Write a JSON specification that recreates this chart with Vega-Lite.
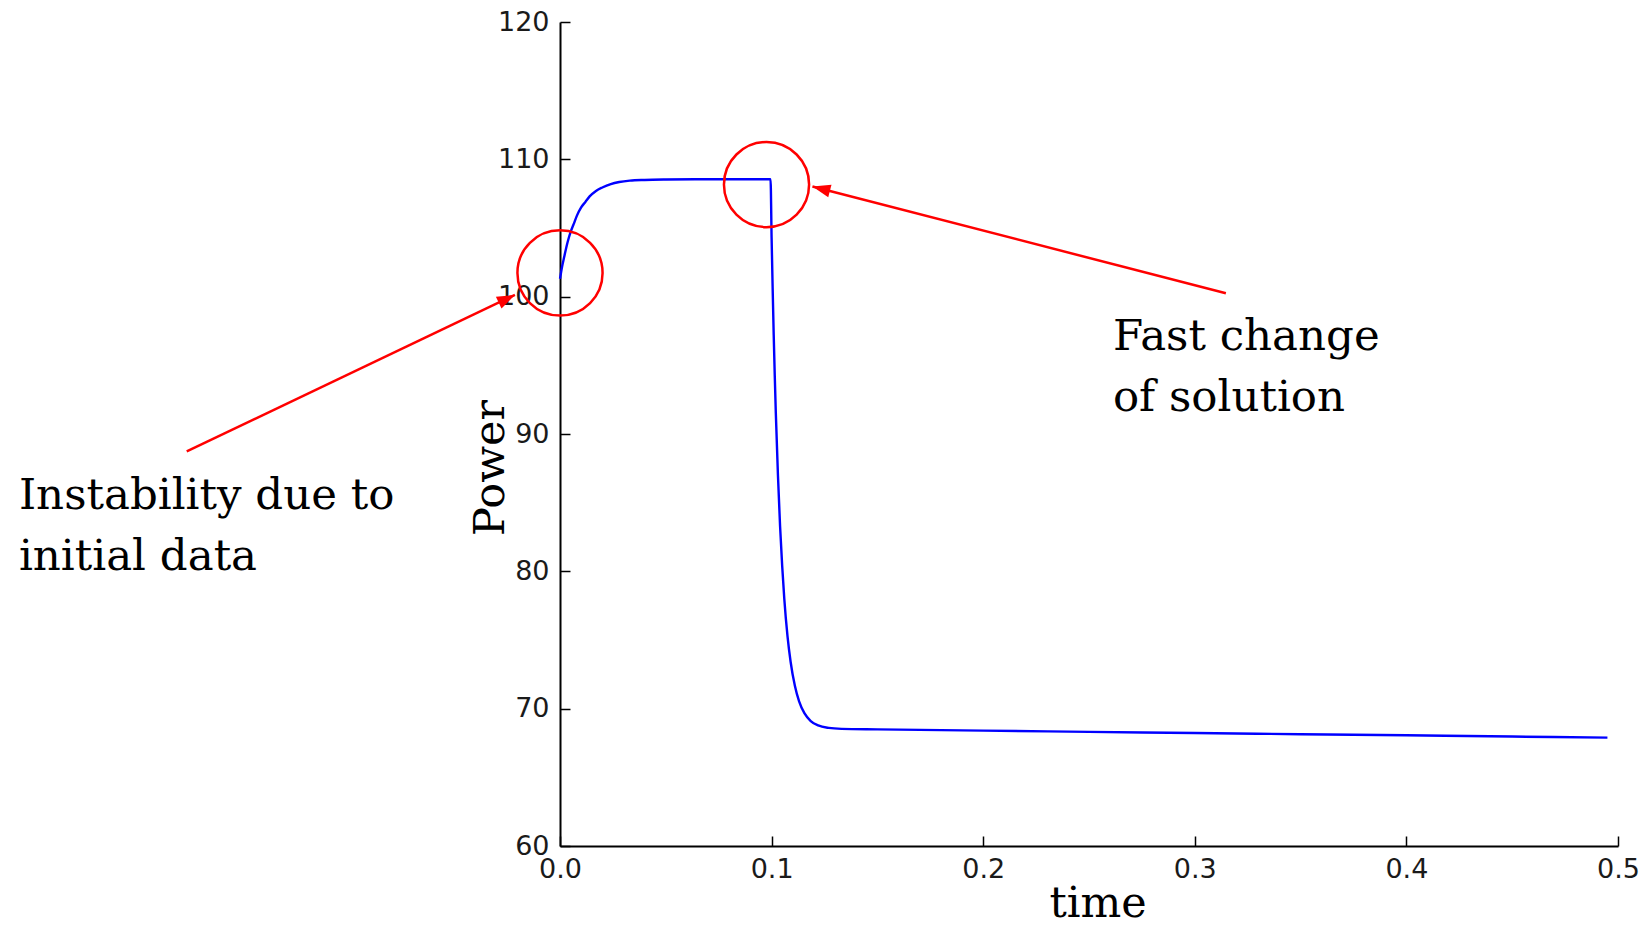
{
  "$schema": "https://vega.github.io/schema/vega-lite/v6.json",
  "width": 1058,
  "height": 824,
  "autosize": {"type": "none"},
  "padding": {"left": 560, "top": 22, "right": 28, "bottom": 84},
  "background": "white",
  "config": {"view": {"stroke": null}},
  "datasets": {
    "curve": [
      {"t": 0, "v": 101.3}, {"t": 0.001, "v": 102.2}, {"t": 0.002, "v": 102.9}, {"t": 0.003, "v": 103.6},
      {"t": 0.004, "v": 104.2}, {"t": 0.005, "v": 104.7}, {"t": 0.0065, "v": 105.3}, {"t": 0.008, "v": 105.9},
      {"t": 0.010, "v": 106.5}, {"t": 0.012, "v": 106.9}, {"t": 0.014, "v": 107.3}, {"t": 0.017, "v": 107.7},
      {"t": 0.020, "v": 107.95}, {"t": 0.024, "v": 108.2}, {"t": 0.028, "v": 108.35}, {"t": 0.033, "v": 108.45},
      {"t": 0.040, "v": 108.5}, {"t": 0.050, "v": 108.53}, {"t": 0.070, "v": 108.55}, {"t": 0.0995, "v": 108.55},
      {"t": 0.1000, "v": 104.3}, {"t": 0.1005, "v": 100.6}, {"t": 0.1010, "v": 97.2}, {"t": 0.1015, "v": 94.2},
      {"t": 0.1020, "v": 91.5}, {"t": 0.1030, "v": 87.0}, {"t": 0.1040, "v": 83.3}, {"t": 0.1050, "v": 80.4},
      {"t": 0.1060, "v": 78.0}, {"t": 0.1075, "v": 75.3}, {"t": 0.1090, "v": 73.4}, {"t": 0.1110, "v": 71.66},
      {"t": 0.1130, "v": 70.53}, {"t": 0.1155, "v": 69.67}, {"t": 0.1185, "v": 69.1}, {"t": 0.122, "v": 68.78},
      {"t": 0.127, "v": 68.6}, {"t": 0.133, "v": 68.53}, {"t": 0.15, "v": 68.49}, {"t": 0.2, "v": 68.4},
      {"t": 0.25, "v": 68.31}, {"t": 0.3, "v": 68.23}, {"t": 0.35, "v": 68.14}, {"t": 0.4, "v": 68.06},
      {"t": 0.45, "v": 67.97}, {"t": 0.495, "v": 67.89}
    ],
    "circles": [
      {"t": 0.0, "v": 101.73},
      {"t": 0.0976, "v": 108.16}
    ],
    "arrows": [
      {"name": "a1", "t": -0.1764, "v": 88.73, "t2": -0.0213, "v2": 100.13},
      {"name": "a2", "t": 0.3147, "v": 100.25, "t2": 0.1193, "v2": 108.02}
    ],
    "notes": [
      {"label": "Instability due to\ninitial data", "t": -0.2557, "v": 84.56},
      {"label": "Fast change\nof solution", "t": 0.2613, "v": 96.13}
    ]
  },
  "layer": [
    {
      "data": {"name": "curve"},
      "mark": {"type": "line", "color": "#0000ff", "strokeWidth": 2.4, "interpolate": "monotone"},
      "encoding": {
        "x": {
          "field": "t", "type": "quantitative",
          "scale": {"domain": [0, 0.5], "nice": false, "zero": false},
          "axis": {
            "title": "time", "values": [0, 0.1, 0.2, 0.3, 0.4, 0.5], "format": ".1f", "grid": false, "labelFlush": false,
            "domainColor": "#000000", "domainWidth": 2, "tickColor": "#000000", "tickWidth": 1.5, "tickSize": -10,
            "labelFont": "DejaVu Sans", "labelFontSize": 27, "labelColor": "#1a1a1a", "labelPadding": 20,
            "titleFont": "DejaVu Serif", "titleFontSize": 43, "titleFontWeight": "normal", "titleColor": "#000000",
            "titleX": 537.5, "titleY": 70.7, "titleBaseline": "alphabetic", "titleAlign": "center"
          }
        },
        "y": {
          "field": "v", "type": "quantitative",
          "scale": {"domain": [60, 120], "nice": false, "zero": false},
          "axis": {
            "title": "Power", "values": [60, 70, 80, 90, 100, 110, 120], "grid": false, "labelFlush": false,
            "domainColor": "#000000", "domainWidth": 2, "tickColor": "#000000", "tickWidth": 1.5, "tickSize": -10,
            "labelFont": "DejaVu Sans", "labelFontSize": 27, "labelColor": "#1a1a1a", "labelPadding": 21,
            "titleFont": "DejaVu Serif", "titleFontSize": 43, "titleFontWeight": "normal", "titleColor": "#000000",
            "titleX": -57, "titleY": 445.5, "titleAngle": 270, "titleBaseline": "alphabetic", "titleAlign": "center"
          }
        }
      }
    },
    {
      "data": {"name": "circles"},
      "mark": {"type": "point", "shape": "circle", "filled": false, "stroke": "#ff0000", "strokeWidth": 2.5, "size": 7250, "opacity": 1},
      "encoding": {
        "x": {"field": "t", "type": "quantitative"},
        "y": {"field": "v", "type": "quantitative"}
      }
    },
    {
      "data": {"name": "arrows"},
      "mark": {"type": "rule", "color": "#ff0000", "strokeWidth": 2.5},
      "encoding": {
        "x": {"field": "t", "type": "quantitative"},
        "y": {"field": "v", "type": "quantitative"},
        "x2": {"field": "t2"},
        "y2": {"field": "v2"}
      }
    },
    {
      "data": {"name": "arrows"},
      "transform": [{"filter": "datum.name === 'a1'"}],
      "mark": {"type": "point", "shape": "M0,0L0.72,2L-0.72,2Z", "filled": true, "color": "#ff0000", "opacity": 1, "size": 324, "angle": 64.4},
      "encoding": {
        "x": {"field": "t2", "type": "quantitative"},
        "y": {"field": "v2", "type": "quantitative"}
      }
    },
    {
      "data": {"name": "arrows"},
      "transform": [{"filter": "datum.name === 'a2'"}],
      "mark": {"type": "point", "shape": "M0,0L0.72,2L-0.72,2Z", "filled": true, "color": "#ff0000", "opacity": 1, "size": 324, "angle": 284.5},
      "encoding": {
        "x": {"field": "t2", "type": "quantitative"},
        "y": {"field": "v2", "type": "quantitative"}
      }
    },
    {
      "data": {"name": "notes"},
      "mark": {"type": "text", "align": "left", "baseline": "alphabetic", "font": "DejaVu Serif", "fontSize": 43.5, "color": "#000000", "lineBreak": "\n", "lineHeight": 61},
      "encoding": {
        "x": {"field": "t", "type": "quantitative"},
        "y": {"field": "v", "type": "quantitative"},
        "text": {"field": "label"}
      }
    }
  ]
}
